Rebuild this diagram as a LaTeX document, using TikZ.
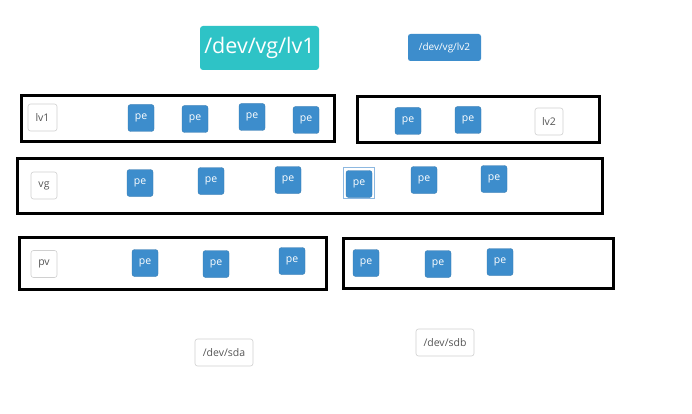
\documentclass[tikz,border=0pt]{standalone}
\usepackage{fontspec}
\setmainfont{Open Sans}
\definecolor{peblue}{HTML}{3D8DCC}
\definecolor{teal}{HTML}{2EC3C6}
\definecolor{lblgray}{HTML}{555555}
\definecolor{lblborder}{HTML}{D0D0D0}
\definecolor{selblue}{HTML}{8DB8E0}
\begin{document}
\begin{tikzpicture}[x=1pt,y=-1pt,
  pebox/.style={fill=peblue,draw=peblue!85!black,line width=0.3pt,rounded corners=2.5pt,minimum width=26pt,minimum height=27pt,inner sep=0pt,text=white,font=\fontsize{10.5}{12}\selectfont},
  lbl/.style={fill=white,draw=lblborder,line width=0.6pt,rounded corners=2.5pt,minimum height=27pt,inner sep=0pt,text=lblgray,font=\fontsize{10.5}{12}\selectfont},
  grp/.style={draw=black,line width=3pt}]
\useasboundingbox (0,0) rectangle (692,414);
\fill[white] (0,0) rectangle (692,414);
% top
\node[fill=teal,rounded corners=3pt,minimum width=119pt,minimum height=44pt,inner sep=0pt,text=white,font=\fontsize{21.5}{24}\selectfont] (lv1path) at (259.5,48) {/dev/vg/lv1};
\node[fill=peblue,rounded corners=2.5pt,minimum width=73pt,minimum height=27pt,inner sep=0pt,text=white,font=\fontsize{10}{11}\selectfont] (lv2path) at (444.5,47.5) {/dev/vg/lv2};
% row 1
\draw[grp] (21,96) rectangle (334,142);
\draw[grp] (357,97) rectangle (599,143);
\node[lbl,minimum width=29pt] (lvone) at (42.5,117.5) {lv1};
\node[pebox] (pa1) at (141,118) {pe};
\node[pebox] (pa2) at (195,119) {pe};
\node[pebox] (pa3) at (252,117) {pe};
\node[pebox] (pa4) at (306,120) {pe};
\node[pebox] (pa5) at (408,121) {pe};
\node[pebox] (pa6) at (468,120) {pe};
\node[lbl,minimum width=28pt] (lvtwo) at (549,121.5) {lv2};
% row 2
\draw[grp] (17,158) rectangle (602,213);
\node[lbl,minimum width=26pt] (vg) at (44,185.5) {vg};
\node[pebox] (pb1) at (140,183) {pe};
\node[pebox] (pb2) at (211,181) {pe};
\node[pebox] (pb3) at (288,180) {pe};
\node[draw=selblue,line width=1pt,minimum width=31pt,minimum height=31pt,inner sep=0pt] (sel) at (359,183) {};
\node[pebox] (pb4) at (359,184) {pe};
\node[pebox] (pb5) at (424,180) {pe};
\node[pebox] (pb6) at (494,179) {pe};
% row 3
\draw[grp] (19,237) rectangle (326,289);
\draw[grp] (343,238) rectangle (613,288);
\node[lbl,minimum width=26pt] (pv) at (44,264) {pv};
\node[pebox] (pc1) at (145,263) {pe};
\node[pebox] (pc2) at (216,264) {pe};
\node[pebox] (pc3) at (292,261) {pe};
\node[pebox] (pc4) at (366,263) {pe};
\node[pebox] (pc5) at (438,264) {pe};
\node[pebox] (pc6) at (500,262) {pe};
% bottom
\node[lbl,minimum width=58pt] (sda) at (224,352.5) {/dev/sda};
\node[lbl,minimum width=58pt] (sdb) at (445,342.5) {/dev/sdb};
\end{tikzpicture}
\end{document}
